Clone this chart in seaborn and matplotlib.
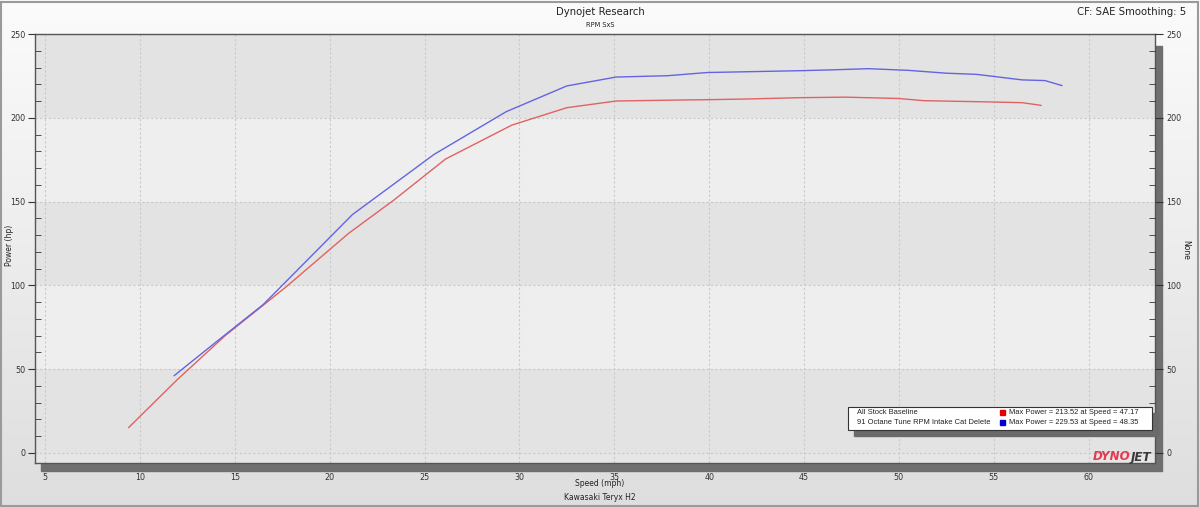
import numpy as np
import pandas as pd
import matplotlib
matplotlib.use('Agg')
import matplotlib.pyplot as plt
from matplotlib.patches import Rectangle
from matplotlib.ticker import MultipleLocator
import seaborn as sns

# data
stock_speed = [9.4, 12.0, 14.5, 17.7, 21.0, 23.4, 26.1, 29.6, 32.5, 35.1, 38.5, 40.0,
               42.0, 44.8, 47.2, 50.0, 51.3, 55.0, 56.5, 57.5]
stock_power = [15.0, 44.0, 70.0, 99.0, 131.0, 151.0, 175.3, 195.6, 206.0, 210.0, 210.6, 210.8,
               211.2, 212.0, 212.3, 211.5, 210.2, 209.4, 209.0, 207.4]
tuned_speed = [11.8, 14.0, 16.5, 21.2, 25.5, 29.3, 32.5, 35.1, 37.8, 39.9, 44.8, 46.5,
               48.4, 50.5, 52.5, 54.1, 56.5, 57.7, 58.6]
tuned_power = [46.0, 66.0, 88.5, 142.2, 178.1, 203.6, 219.0, 224.3, 225.1, 227.0, 228.1, 228.6,
               229.3, 228.3, 226.6, 225.9, 222.6, 222.2, 219.2]
run_names = ['All Stock Baseline', '91 Octane Tune RPM Intake Cat Delete']
run_colors = ['#e06262', '#6464e2']
max_text = ['Max Power = 213.52 at Speed = 47.17', 'Max Power = 229.53 at Speed = 48.35']
marker_colors = ['#e00000', '#0000d0']

df = pd.concat([
    pd.DataFrame({'speed': stock_speed, 'power': stock_power, 'run': run_names[0]}),
    pd.DataFrame({'speed': tuned_speed, 'power': tuned_power, 'run': run_names[1]}),
])

sns.set_style('white')
plt.rcParams['font.family'] = ['DejaVu Sans']

W, H = 1200, 507
fig = plt.figure(figsize=(12, 5.07), dpi=100)
fig.patch.set_facecolor('#e9e9e9')

# background gradient
bg = fig.add_axes([0, 0, 1, 1], zorder=-10)
grad = np.linspace(0, 1, 256).reshape(-1, 1)
bg.imshow(grad, aspect='auto', cmap=matplotlib.colors.LinearSegmentedColormap.from_list(
    'g', ['#fbfbfb', '#dedede']), extent=[0, 1, 0, 1])
bg.axis('off')
fig.patches.append(Rectangle((1 / W, 1 / H), 1 - 3 / W, 1 - 3 / H, transform=fig.transFigure,
                             fill=False, edgecolor='#9a9a9a', lw=1.5, zorder=-5))

L, R, T, B = 35, 1155, 34, 463
ax = fig.add_axes([L / W, 1 - B / H, (R - L) / W, (B - T) / H])
# axes shadow
fig.patches.append(Rectangle(((L + 6) / W, 1 - (B + 8) / H), (R - L + 1) / W, (B - T - 4) / H,
                             transform=fig.transFigure, color='#6f6f6f', zorder=-1))

ax.set_facecolor('#e6e6e6')
for k in range(5):
    ax.axhspan(k * 50, k * 50 + 50, color='#e3e3e3' if k % 2 == 0 else '#eeeeee', lw=0, zorder=0)

sns.lineplot(data=df, x='speed', y='power', hue='run', palette=run_colors, sort=False,
             lw=1.0, legend=False, ax=ax, zorder=3)

ax.set_xlim(4.47, 63.5)
ax.set_ylim(-6.1, 250)
ax.xaxis.set_major_locator(MultipleLocator(5))
ax.xaxis.set_minor_locator(MultipleLocator(1))
ax.yaxis.set_major_locator(MultipleLocator(50))
ax.yaxis.set_minor_locator(MultipleLocator(10))
ax.grid(True, which='major', ls=(0, (2, 2)), color='#c9c9c9', lw=0.8, zorder=1)
ax.set_axisbelow(True)
ax.tick_params(axis='x', which='major', direction='in', length=7, pad=7, labelsize=5.8,
               color='#333333', labelcolor='#333333')
ax.tick_params(axis='x', which='minor', direction='in', length=6, color='#333333')
ax.tick_params(axis='y', which='major', direction='out', length=5, pad=2, labelsize=5.8,
               color='#333333', labelcolor='#333333')
ax.tick_params(axis='y', which='minor', direction='in', length=4, color='#333333')
for s in ax.spines.values():
    s.set_color('#555555')
    s.set_linewidth(1.0)
ax.set_xlabel('')
ax.set_ylabel('')

ax2 = ax.twinx()
ax2.set_ylim(ax.get_ylim())
ax2.yaxis.set_major_locator(MultipleLocator(50))
ax2.yaxis.set_minor_locator(MultipleLocator(10))
ax2.tick_params(axis='y', which='major', direction='out', length=6, pad=2, labelsize=5.8,
                color='#333333', labelcolor='#333333')
ax2.tick_params(axis='y', which='minor', direction='in', length=4, color='#333333')
for s in ax2.spines.values():
    s.set_visible(False)

# titles and axis labels
fig.text(600 / W, 1 - 12 / H, 'Dynojet Research', ha='center', va='center', fontsize=7.3, color='#222222')
fig.text(600 / W, 1 - 25 / H, 'RPM SxS', ha='center', va='center', fontsize=4.8, color='#222222')
fig.text(1186 / W, 1 - 12 / H, 'CF: SAE Smoothing: 5', ha='right', va='center', fontsize=7.3, color='#222222')
fig.text(600 / W, 1 - 484 / H, 'Speed (mph)', ha='center', va='center', fontsize=5.5, color='#222222')
fig.text(600 / W, 1 - 498 / H, 'Kawasaki Teryx H2', ha='center', va='center', fontsize=5.5, color='#222222')
fig.text(9 / W, 1 - 245 / H, 'Power (hp)', ha='center', va='center', rotation=90, fontsize=5.5, color='#222222')
fig.text(1186 / W, 1 - 250 / H, 'None', ha='center', va='center', rotation=-90, fontsize=5.5, color='#222222')

# legend box
lx0, lx1, ly0, ly1 = 848, 1152, 407, 430
fig.patches.append(Rectangle(((lx0 + 6) / W, 1 - (ly1 + 6) / H), (lx1 - lx0) / W, (ly1 - ly0) / H,
                             transform=fig.transFigure, color='#6a6a6a', zorder=5))
fig.patches.append(Rectangle((lx0 / W, 1 - ly1 / H), (lx1 - lx0) / W, (ly1 - ly0) / H,
                             transform=fig.transFigure, facecolor='white', edgecolor='#333333',
                             lw=0.8, zorder=6))
for i, (name, txt, mc) in enumerate(zip(run_names, max_text, marker_colors)):
    yy = 1 - (412.5 + i * 10) / H
    fig.text(857 / W, yy, name, ha='left', va='center', fontsize=5.4, color='#222222', zorder=7,
             family='Liberation Sans')
    fig.patches.append(Rectangle((1000 / W, yy - 2.5 / H), 5 / W, 5 / H, transform=fig.transFigure,
                                 color=mc, zorder=7))
    fig.text(1009 / W, yy, txt, ha='left', va='center', fontsize=5.4, color='#222222', zorder=7,
             family='Liberation Sans')

# logo
t1 = fig.text(1093 / W, 1 - 457 / H, 'DYNO', ha='left', va='center', fontsize=8.6, fontweight='heavy',
              style='italic', color='#e23a4e', zorder=7, family='DejaVu Sans')
ax.annotate('JET', xy=(1, 0.5), xycoords=t1, ha='left', va='center', fontsize=8.6,
            fontweight='heavy', style='italic', color='#3a3a3a', annotation_clip=False,
            family='DejaVu Sans')

fig.savefig('out.png', dpi=100, facecolor=fig.get_facecolor())
